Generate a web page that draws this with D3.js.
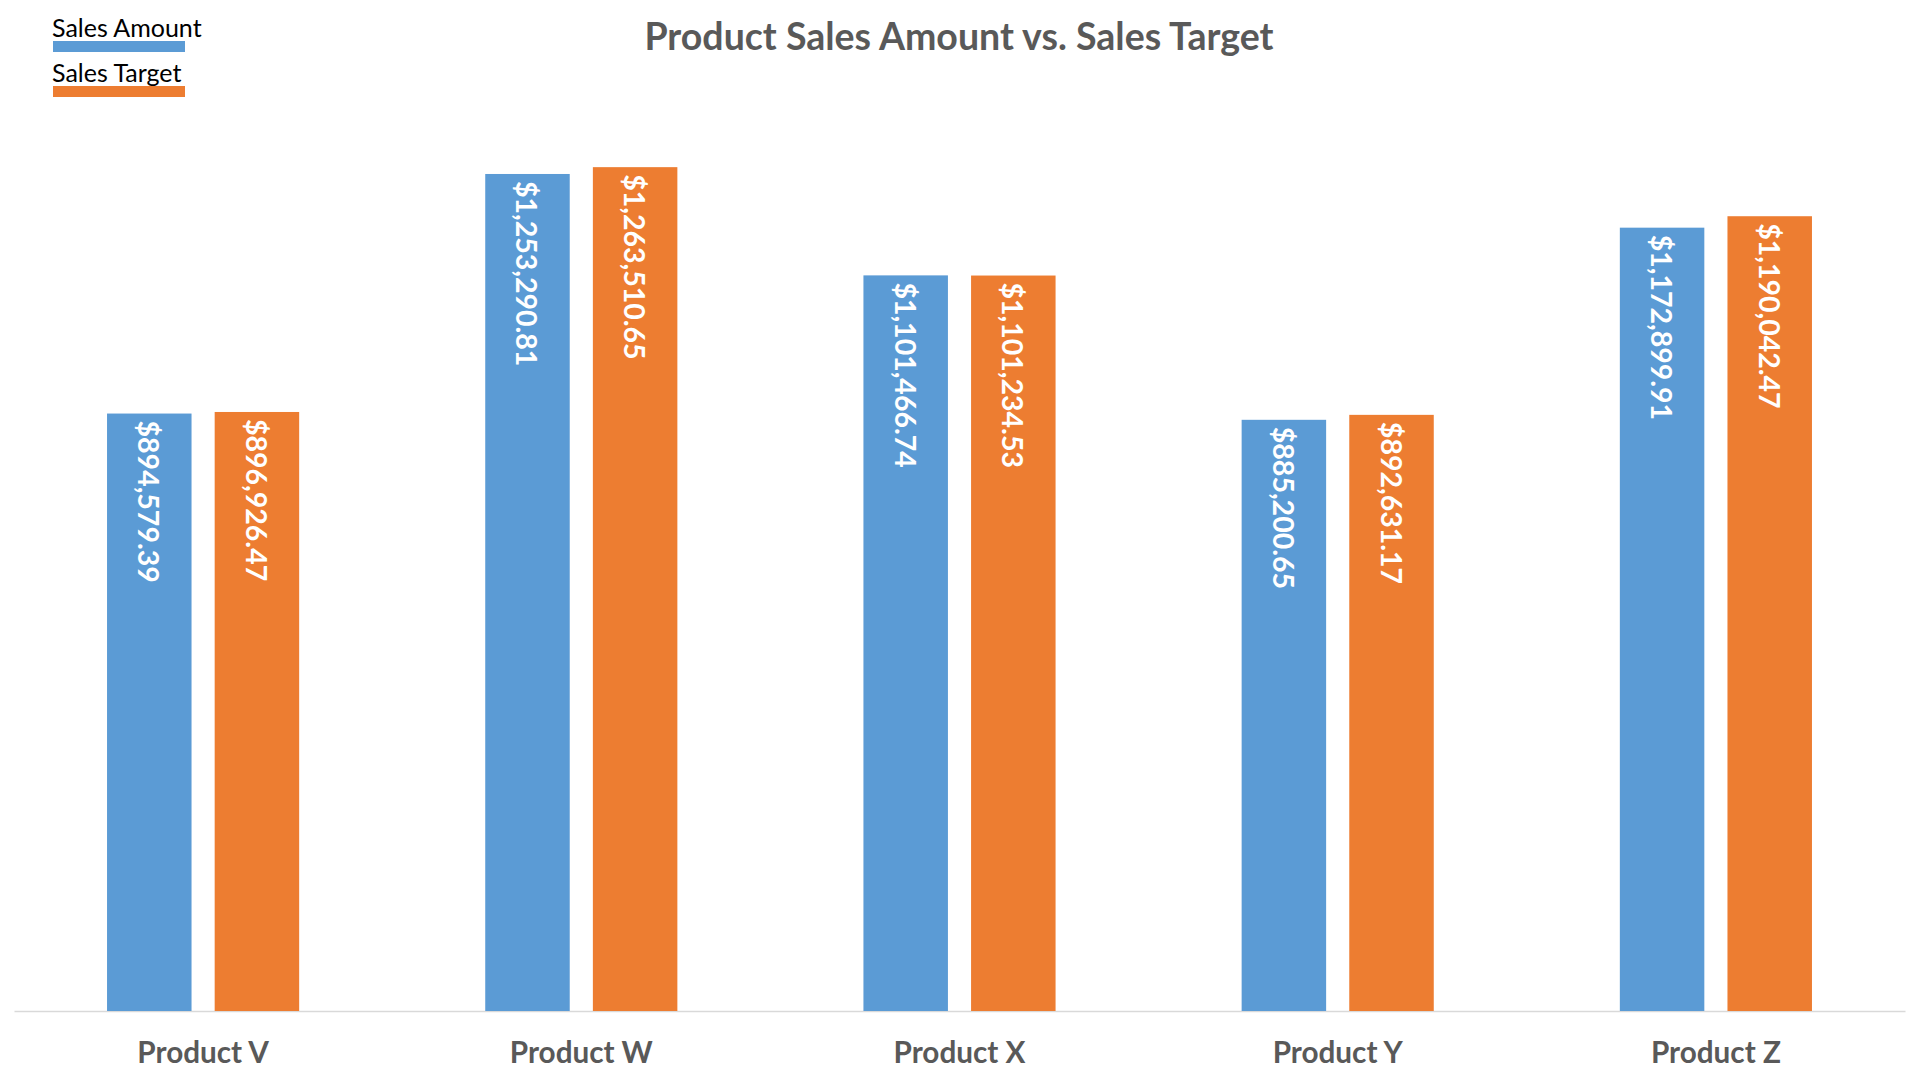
<!DOCTYPE html>
<html><head><meta charset="utf-8">
<script src="https://cdn.jsdelivr.net/npm/d3@7"></script>
<style>body{margin:0;background:#fff}svg{display:block}</style>
</head><body><svg id="c" width="1920" height="1080"></svg>
<script>
const categories = ["Product V","Product W","Product X","Product Y","Product Z"];
const seriesNames = ["Sales Amount","Sales Target"];
const salesAmount = [894579.39,1253290.81,1101466.74,885200.65,1172899.91];
const salesTarget = [896926.47,1263510.65,1101234.53,892631.17,1190042.47];
const seriesColors = ["#5B9BD5","#ED7D31"];
const yMax = 1400000;

const svg = d3.select("#c");
const font = "Lato, 'Open Sans', sans-serif";
const x0 = d3.scaleBand().domain(categories).range([14,1905]).paddingInner(0.492).paddingOuter(0.246);
const x1 = d3.scaleBand().domain(seriesNames).range([0,x0.bandwidth()]).paddingInner(0.215);
const y = d3.scaleLinear().domain([0,yMax]).range([1011,76]);
const fmt = d3.format("$,.2f");
const data = categories.map((c,i)=>({cat:c, vals:[salesAmount[i],salesTarget[i]]}));

// title
svg.append("text").attr("x",959).attr("y",50).attr("text-anchor","middle")
  .attr("font-family",font).attr("font-weight","bold").attr("font-size",37.5).attr("fill","#595959")
  .text("Product Sales Amount vs. Sales Target");

// axis line
const xAxis = svg.append("g").attr("transform","translate(0,1011)")
  .call(d3.axisBottom(x0).tickSize(0).tickPadding(0));
xAxis.select(".domain").attr("stroke","#D9D9D9").attr("stroke-width",1.5);
xAxis.selectAll("text").attr("font-family",font).attr("font-weight","bold").attr("font-size",29.7)
  .attr("fill","#595959").attr("dy",null).attr("y",52);

const groups = svg.append("g").selectAll("g").data(data).join("g")
  .attr("transform",d=>`translate(${x0(d.cat)},0)`);
groups.selectAll("rect").data(d=>d.vals.map((v,j)=>({s:seriesNames[j],v,j}))).join("rect")
  .attr("x",d=>x1(d.s)).attr("width",x1.bandwidth())
  .attr("y",d=>y(d.v)).attr("height",d=>y(0)-y(d.v)).attr("fill",d=>seriesColors[d.j]);
groups.selectAll("text.lbl").data(d=>d.vals.map((v,j)=>({s:seriesNames[j],v,j}))).join("text")
  .attr("class","lbl")
  .attr("transform",d=>`translate(${x1(d.s)+x1.bandwidth()/2},${y(d.v)+7}) rotate(90)`)
  .attr("dominant-baseline","central").attr("text-anchor","start")
  .attr("font-family",font).attr("font-weight","bold").attr("font-size",28.5).attr("fill","#fff")
  .text(d=>fmt(d.v));

// legend
const lg = svg.append("g");
seriesNames.forEach((s,i)=>{
  lg.append("text").attr("x",52).attr("y",37+i*45).attr("font-family",font).attr("font-size",25)
    .attr("fill","#000").text(s);
  lg.append("rect").attr("x",53).attr("y",41+i*45).attr("width",132).attr("height",11).attr("fill",seriesColors[i]);
});
</script></body></html>
